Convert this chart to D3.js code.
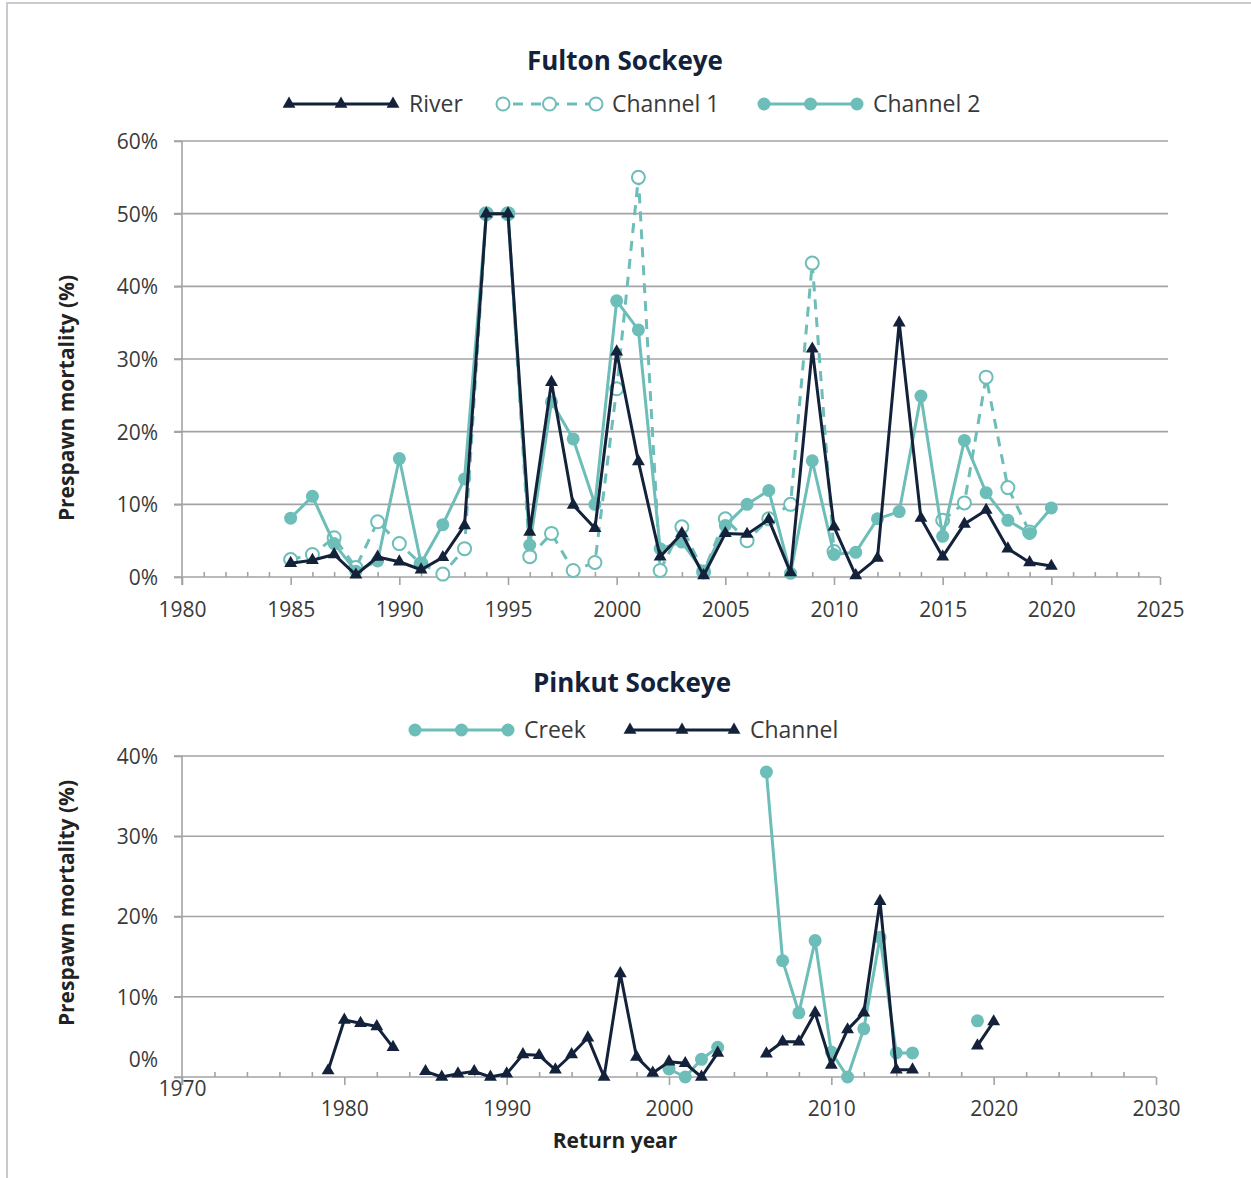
<!DOCTYPE html>
<html>
<head>
<meta charset="utf-8">
<script src="https://cdn.jsdelivr.net/npm/d3@7"></script>
<style>
  body { margin: 0; background: #fff; }
  svg text { font-family: "Open Sans", Lato, sans-serif; }
</style>
</head>
<body>
<svg id="chart" width="1251" height="1178"></svg>
<script>
// Fulton Sockeye data (fraction of spawners, null = no data)
var fultonYears = d3.range(1985, 2021);
var fultonRiver = [0.019, 0.023, 0.031, 0.003, 0.0275, 0.021, 0.010, 0.027, 0.071, 0.50,
                   0.50, 0.062, 0.268, 0.099, 0.067, 0.310, 0.159, 0.028, 0.060, 0.002,
                   0.060, 0.059, 0.079, 0.006, 0.314, 0.069, 0.002, 0.026, 0.350, 0.081,
                   0.028, 0.073, 0.092, 0.039, 0.020, 0.015];
var fultonChannel1 = [0.024, 0.031, 0.054, 0.013, 0.076, 0.046, 0.018, 0.004, 0.039, 0.50,
                      0.50, 0.028, 0.060, 0.009, 0.020, 0.259, 0.550, 0.009, 0.069, 0.007,
                      0.080, 0.050, 0.080, 0.100, 0.432, 0.035, null, null, null, null,
                      0.078, 0.102, 0.275, 0.123, 0.062, null];
var fultonChannel2 = [0.081, 0.111, 0.046, 0.008, 0.022, 0.163, 0.019, 0.072, 0.135, 0.50,
                      0.50, 0.044, 0.241, 0.190, 0.100, 0.380, 0.340, 0.039, 0.048, 0.007,
                      0.071, 0.100, 0.119, 0.005, 0.160, 0.031, 0.034, 0.080, 0.090, 0.249,
                      0.056, 0.188, 0.116, 0.078, 0.060, 0.095];

// Pinkut Sockeye data
var pinkutYears = d3.range(1979, 2021);
var pinkutCreek = [null, null, null, null, null, null, null, null, null, null,
                   null, null, null, null, null, null, null, null, null, null,
                   null, 0.010, 0.000, 0.022, 0.037, null, null, 0.380, 0.145, 0.080,
                   0.170, 0.031, 0.000, 0.060, 0.174, 0.030, 0.030, null, null, null,
                   0.070, null];
var pinkutChannel = [0.008, 0.071, 0.067, 0.063, 0.037, null, 0.007, 0.000, 0.004, 0.007,
                     0.000, 0.004, 0.028, 0.027, 0.009, 0.028, 0.049, 0.000, 0.129, 0.025,
                     0.005, 0.019, 0.017, 0.000, 0.030, null, null, 0.029, 0.044, 0.044,
                     0.080, 0.015, 0.059, 0.080, 0.219, 0.009, 0.009, null, null, null,
                     0.039, 0.069];

var navy = '#13223a';
var teal = '#6dbdb8';
var grid = '#a3a3a6';
var labelColor = '#3a3a3a';

var svg = d3.select('#chart');

// page frame (top and left edge only, like the cropped original)
svg.append('path')
  .attr('d', 'M7,1178 V3 H1251')
  .attr('fill', 'none')
  .attr('stroke', '#c9c9d0')
  .attr('stroke-width', 2);

function drawPanel(cfg) {
  var g = svg.append('g');
  var x = d3.scaleLinear().domain(cfg.xDomain).range([cfg.left, cfg.right]);
  var y = d3.scaleLinear().domain([0, cfg.yMax]).range([cfg.bottom, cfg.top]);

  // gridlines
  g.selectAll('.grid')
    .data(cfg.yTicks.filter(function(d) { return d > 0; }))
    .enter().append('line')
    .attr('x1', cfg.left - 8).attr('x2', cfg.right + 8)
    .attr('y1', function(d) { return y(d); })
    .attr('y2', function(d) { return y(d); })
    .attr('stroke', grid).attr('stroke-width', 1.6);

  // y axis
  var yAxis = g.append('g')
    .attr('transform', 'translate(' + cfg.left + ',0)')
    .call(d3.axisLeft(y).tickValues(cfg.yTicks).tickSize(8).tickPadding(16)
      .tickFormat(d3.format('.0%')));
  yAxis.select('.domain').remove();
  yAxis.selectAll('line').attr('stroke', grid).attr('stroke-width', 1.6);
  yAxis.selectAll('text')
    .attr('fill', labelColor).style('font-size', '21px')
    .attr('dy', function(d) { return d === 0 ? cfg.zeroLabelDy : '0.35em'; });
  g.append('line')
    .attr('x1', cfg.left).attr('x2', cfg.left)
    .attr('y1', cfg.top).attr('y2', cfg.bottom + 8)
    .attr('stroke', grid).attr('stroke-width', 1.6);

  // x axis: minor ticks up, major ticks down
  var minor = g.append('g')
    .attr('transform', 'translate(0,' + cfg.bottom + ')')
    .call(d3.axisTop(x).tickValues(cfg.minorTicks).tickSize(5).tickFormat(''));
  minor.select('.domain').remove();
  minor.selectAll('line').attr('stroke', grid).attr('stroke-width', 1.6);

  var major = g.append('g')
    .attr('transform', 'translate(0,' + cfg.bottom + ')')
    .call(d3.axisBottom(x).tickValues(cfg.majorTicks).tickSize(8).tickPadding(cfg.xPad)
      .tickFormat(d3.format('d')));
  major.select('.domain').remove();
  major.selectAll('line').attr('stroke', grid).attr('stroke-width', 1.6);
  major.selectAll('text')
    .attr('fill', labelColor).style('font-size', '21px')
    .attr('y', function(d) { return d === cfg.xDomain[0] ? cfg.firstXLabelY : 8 + cfg.xPad; });
  g.append('line')
    .attr('x1', cfg.left - 8).attr('x2', cfg.right)
    .attr('y1', cfg.bottom).attr('y2', cfg.bottom)
    .attr('stroke', grid).attr('stroke-width', 1.6);

  // title
  g.append('text')
    .attr('x', cfg.titleX).attr('y', cfg.titleY)
    .attr('text-anchor', 'middle')
    .attr('fill', navy).style('font-size', '26px').style('font-weight', 700)
    .text(cfg.title);

  // y axis title
  g.append('text')
    .attr('transform', 'translate(74,' + cfg.yTitleY + ') rotate(-90)')
    .attr('text-anchor', 'middle')
    .attr('fill', '#222').style('font-size', '21px').style('font-weight', 700)
    .text('Prespawn mortality (%)');

  // series
  cfg.series.forEach(function(s) {
    var pts = cfg.years.map(function(yr, i) { return { year: yr, v: s.values[i] }; });
    var line = d3.line()
      .defined(function(d) { return d.v != null; })
      .x(function(d) { return x(d.year); })
      .y(function(d) { return y(d.v); });
    g.append('path')
      .datum(pts)
      .attr('d', line)
      .attr('fill', 'none')
      .attr('stroke', s.color)
      .attr('stroke-width', 3)
      .attr('stroke-linejoin', 'round')
      .attr('stroke-dasharray', s.dashed ? '10,8' : null);
    drawMarkers(g, pts.filter(function(d) { return d.v != null; }), s,
      function(d) { return x(d.year); }, function(d) { return y(d.v); });
  });

  // legend
  var lg = g.append('g');
  cfg.series.forEach(function(s) {
    var step = s.marker === 'triangle' ? 52 : 46.5;
    var xs = [s.legendX, s.legendX + step, s.legendX + 2 * step];
    lg.append('line')
      .attr('x1', xs[0]).attr('x2', xs[2])
      .attr('y1', cfg.legendY).attr('y2', cfg.legendY)
      .attr('stroke', s.color).attr('stroke-width', 3)
      .attr('stroke-dasharray', s.dashed ? '10,8' : null)
      .attr('stroke-dashoffset', s.dashed ? -10 : null);
    drawMarkers(lg, xs, s, function(d) { return d; }, function() { return cfg.legendY; });
    lg.append('text')
      .attr('x', xs[2] + 16).attr('y', cfg.legendY)
      .attr('dy', '0.35em')
      .attr('fill', labelColor).style('font-size', '23px')
      .text(s.name);
  });
}

function drawMarkers(g, data, s, fx, fy) {
  if (s.marker === 'triangle') {
    g.selectAll(null).data(data).enter().append('path')
      .attr('d', d3.symbol().type(d3.symbolTriangle).size(72))
      .attr('transform', function(d) { return 'translate(' + fx(d) + ',' + fy(d) + ')'; })
      .attr('fill', s.color);
  } else {
    g.selectAll(null).data(data).enter().append('circle')
      .attr('cx', fx).attr('cy', fy)
      .attr('r', s.marker === 'open' ? 6.5 : 6.5)
      .attr('fill', s.marker === 'open' ? '#fff' : s.color)
      .attr('stroke', s.color)
      .attr('stroke-width', s.marker === 'open' ? 2 : 0);
  }
}

drawPanel({
  title: 'Fulton Sockeye', titleX: 625, titleY: 70,
  legendY: 104, yTitleY: 398,
  xDomain: [1980, 2025], left: 182, right: 1160,
  yMax: 0.6, top: 141, bottom: 577,
  yTicks: d3.range(0, 0.61, 0.1),
  majorTicks: d3.range(1980, 2026, 5),
  minorTicks: d3.range(1981, 2025).filter(function(d) { return d % 5 !== 0; }),
  xPad: 17, firstXLabelY: 25, zeroLabelDy: '0.35em',
  years: fultonYears,
  series: [
    { name: 'Channel 1', values: fultonChannel1, color: teal, marker: 'open', dashed: true, legendX: 503 },
    { name: 'Channel 2', values: fultonChannel2, color: teal, marker: 'filled', legendX: 764 },
    { name: 'River', values: fultonRiver, color: navy, marker: 'triangle', legendX: 289 }
  ]
});

drawPanel({
  title: 'Pinkut Sockeye', titleX: 632, titleY: 692,
  legendY: 730, yTitleY: 903,
  xDomain: [1970, 2030], left: 182, right: 1156,
  yMax: 0.4, top: 756, bottom: 1077,
  yTicks: d3.range(0, 0.41, 0.1),
  majorTicks: d3.range(1970, 2031, 10),
  minorTicks: d3.range(1972, 2030, 2).filter(function(d) { return d % 10 !== 0; }),
  xPad: 16, firstXLabelY: 4, zeroLabelDy: '-0.5em',
  years: pinkutYears,
  series: [
    { name: 'Creek', values: pinkutCreek, color: teal, marker: 'filled', legendX: 415 },
    { name: 'Channel', values: pinkutChannel, color: navy, marker: 'triangle', legendX: 630 }
  ]
});

// shared x axis title
svg.append('text')
  .attr('x', 615).attr('y', 1148)
  .attr('text-anchor', 'middle')
  .attr('fill', '#222').style('font-size', '21px').style('font-weight', 700)
  .text('Return year');
</script>
</body>
</html>
